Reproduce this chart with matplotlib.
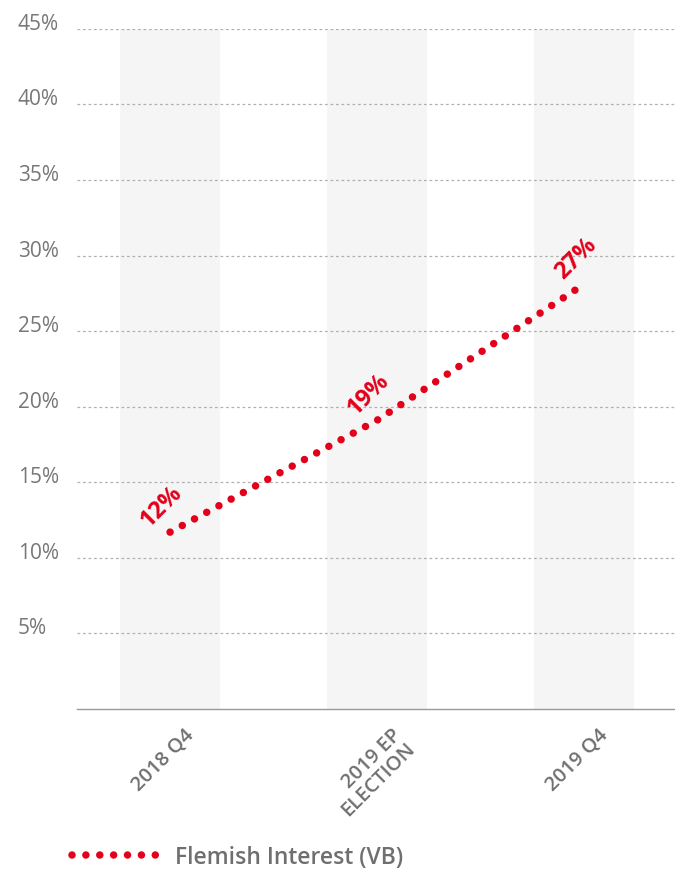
import matplotlib
matplotlib.use('Agg')
import matplotlib.pyplot as plt
import matplotlib.transforms as mtransforms

plt.rcParams['font.family'] = ['Open Sans', 'DejaVu Sans']

# data
categories = ['2018 Q4', '2019 EP\nELECTION', '2019 Q4']
values = [11.7, 19.1, 28.1]
point_labels = ['12%', '19%', '27%']
series_name = 'Flemish Interest (VB)'
yticks = [5, 10, 15, 20, 25, 30, 35, 40, 45]
ytick_labels = ['5%', '10%', '15%', '20%', '25%', '30%', '35%', '40%', '45%']

red = '#e2001a'
grey_txt = '#777777'

fig = plt.figure(figsize=(6.75, 8.7), dpi=100)
ax = fig.add_axes([0.114, 0.184, 0.886, 0.7816])

x = list(range(len(categories)))

# light grey bands behind each category
for xi in x:
    ax.axvspan(xi - 0.24, xi + 0.24, color='#f5f5f5', zorder=0, lw=0)

ax.set_xlim(-0.45, 2.44)
ax.set_ylim(0, 45)

# dotted gridlines
for t in yticks:
    ax.axhline(t, color='#b0b0b0', lw=0.9, dashes=(2.2, 2.2), zorder=1)

line, = ax.plot(x, values, color=red, lw=5.4, dashes=(0.001, 1.85),
                dash_capstyle='round', solid_capstyle='round', zorder=3,
                label=series_name)

for xi, v, lab in zip(x, values, point_labels):
    ax.annotate(lab, (xi, v), xytext=(-6, 19), textcoords='offset points',
                ha='center', va='center', rotation=45, color=red,
                fontsize=17, fontweight='bold', zorder=4)

for s in ['top', 'right', 'left']:
    ax.spines[s].set_visible(False)
ax.spines['bottom'].set_color('#999999')
ax.spines['bottom'].set_linewidth(1)

ax.set_yticks(yticks)
ax.set_yticklabels(ytick_labels, fontsize=15, color=grey_txt)
ax.tick_params(axis='y', length=0, pad=42.5)
for lbl in ax.get_yticklabels():
    lbl.set_horizontalalignment('left')
    lbl.set_verticalalignment('baseline')

ax.set_xticks(x)
ax.set_xticklabels(categories, fontsize=14.5, color='#6f6f6f', rotation=45,
                   ha='right', va='top', rotation_mode='anchor',
                   fontweight='semibold', linespacing=1.0)
ax.tick_params(axis='x', length=0, pad=11)
offset = mtransforms.ScaledTranslation(14 / 100, 0, fig.dpi_scale_trans)
for lbl in ax.get_xticklabels():
    lbl.set_transform(lbl.get_transform() + offset)

leg = fig.legend(handles=[line], loc='center left',
                 bbox_to_anchor=(0.093, 0.014), frameon=False,
                 fontsize=16.5, handlelength=3.65, handletextpad=0.85,
                 borderaxespad=0)
for t in leg.get_texts():
    t.set_color('#6f6f6f')
    t.set_fontweight('semibold')

fig.savefig('out.png', dpi=100)
